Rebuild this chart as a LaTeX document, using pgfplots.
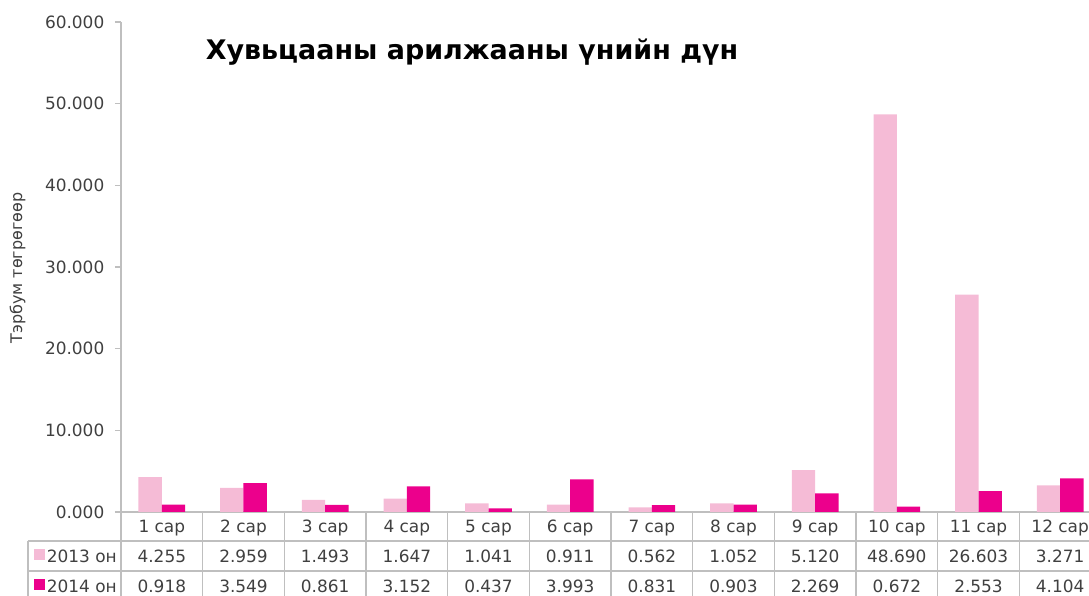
\documentclass[border=0pt]{standalone}
\usepackage{pgfplots}
\pgfplotsset{compat=1.18}
\usepackage{pgfplotstable}
\usepackage{fontspec}
\setmainfont{DejaVu Sans}

\definecolor{pinkA}{RGB}{245,187,214}
\definecolor{magB}{RGB}{236,0,140}
\definecolor{gridc}{RGB}{191,191,191}
\definecolor{txt}{RGB}{64,64,64}

\pgfplotstableread{
x a b
0 4.255 0.918
1 2.959 3.549
2 1.493 0.861
3 1.647 3.152
4 1.041 0.437
5 0.911 3.993
6 0.562 0.831
7 1.052 0.903
8 5.120 2.269
9 48.690 0.672
10 26.603 2.553
11 3.271 4.104
}\data

\begin{document}
\begin{tikzpicture}
\path[use as bounding box] (-90.75pt,-63pt) rectangle (726pt,384pt);
\clip (-90.75pt,-63pt) rectangle (726pt,384pt);
\begin{axis}[at={(0pt,0pt)}, anchor=south west, scale only axis,
  width=735pt, height=367.5pt,
  xmin=-0.5, xmax=11.5, ymin=0, ymax=60,
  ybar=0pt, bar width=17.5pt,
  axis lines*=left,
  axis line style={gridc, line width=0.9pt},
  xtick=\empty, ytick={0,10,...,60},
  ytick style={gridc, line width=0.9pt},
  tick align=outside, major tick length=4.5pt,
  yticklabel style={font=\fontsize{12.7}{15}\selectfont, text=txt, xshift=-4.5pt,
    /pgf/number format/.cd, fixed, fixed zerofill, precision=3, assume math mode=true},
  clip=false,
]
\addplot[fill=pinkA, draw=none] table[x=x, y=a]{\data};
\addplot[fill=magB, draw=none] table[x=x, y=b]{\data};
\end{axis}
% title
\node[anchor=base, font=\fontsize{20.2}{24}\selectfont\bfseries, text=black] at (263.25pt,339pt) {Хувьцааны арилжааны үнийн дүн};
% y label
\node[rotate=90, font=\fontsize{12}{14}\selectfont, text=txt] at (-77.5pt,183pt) {Тэрбум төгрөгөөр};
% data table grid
\draw[gridc, line width=0.9pt] (-69.75pt,-21.75pt) -- (735pt,-21.75pt);
\draw[gridc, line width=0.9pt] (-69.75pt,-44.25pt) -- (735pt,-44.25pt);
\draw[gridc, line width=0.9pt] (-69.75pt,-21.75pt) -- (-69.75pt,-70pt);
\foreach \k in {0,...,12} {
  \draw[gridc, line width=0.9pt] ({61.25pt*\k},0pt) -- ({61.25pt*\k},-70pt);
}
% legend keys
\fill[pinkA] (-65pt,-27.5pt) rectangle (-57pt,-36pt);
\fill[magB] (-65pt,-50pt) rectangle (-57pt,-58.5pt);
\node[anchor=base east, font=\fontsize{12.7}{15}\selectfont, text=txt, inner sep=0pt] at (-3pt,-38.25pt) {2013 он};
\node[anchor=base east, font=\fontsize{12.7}{15}\selectfont, text=txt, inner sep=0pt] at (-3pt,-60.75pt) {2014 он};
% table values
\foreach \i in {0,...,11} {
  \pgfmathtruncatemacro\m{\i+1}
  \pgfplotstablegetelem{\i}{a}\of\data \let\va\pgfplotsretval
  \pgfplotstablegetelem{\i}{b}\of\data \let\vb\pgfplotsretval
  \node[anchor=base, font=\fontsize{12.7}{15}\selectfont, text=txt, inner sep=0pt] at ({30.625pt+61.25pt*\i},-15.75pt) {\m{} сар};
  \node[anchor=base, font=\fontsize{12.7}{15}\selectfont, text=txt, inner sep=0pt] at ({30.625pt+61.25pt*\i},-38.25pt) {\va};
  \node[anchor=base, font=\fontsize{12.7}{15}\selectfont, text=txt, inner sep=0pt] at ({30.625pt+61.25pt*\i},-60.75pt) {\vb};
}
\end{tikzpicture}
\end{document}
